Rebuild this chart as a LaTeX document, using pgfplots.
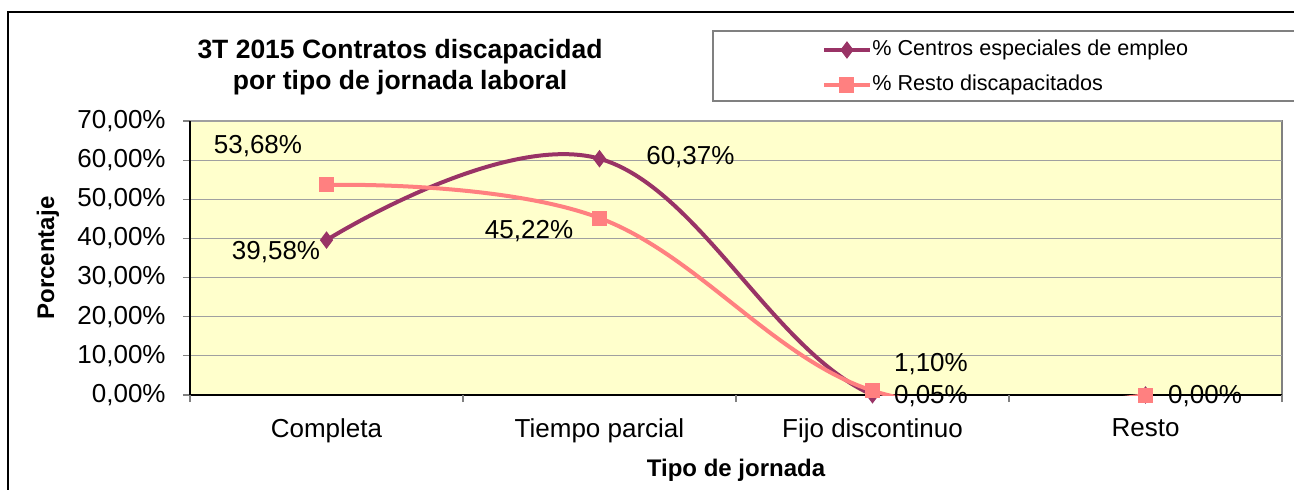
\documentclass[border=0pt]{standalone}
\usepackage{fontspec}
\setmainfont{Liberation Sans}
\usepackage{pgfplots}
\pgfplotsset{compat=1.18}
\definecolor{plum}{HTML}{993366}
\definecolor{salmon}{HTML}{FF8080}
\definecolor{bgyellow}{HTML}{FFFFCC}
\definecolor{gridgray}{HTML}{A0A0A0}
\begin{document}
\begin{tikzpicture}
\useasboundingbox (0,0) rectangle (647pt,244.5pt);
\fill[white] (0,0) rectangle (647pt,244.5pt);
\draw[black, line width=0.6pt] (4pt,-1pt) -- (4pt,238.5pt) -- (648pt,238.5pt);
\draw[gray, line width=0.6pt, fill=white] (356.5pt,194pt) rectangle (650pt,229pt);
\node[font=\fontsize{13.25}{15.5}\selectfont\bfseries, align=center] at (200pt,210.75pt) {3T 2015 Contratos discapacidad\\por tipo de jornada laboral};
\begin{axis}[
 at={(95pt,47pt)}, anchor=south west,
 scale only axis, width=546pt, height=137pt,
 xmin=-0.5, xmax=3.5, ymin=0, ymax=70,
 clip mode=individual,
 axis background/.style={fill=bgyellow, draw=gray, line width=0.6pt},
 axis x line*=bottom, axis y line*=left,
 axis line style={black, line width=0.8pt, -},
 tick align=outside,
 /pgf/number format/assume math mode=true,
 ticklabel style={font=\fontsize{13}{15}\selectfont},
 xtick={0,1,2,3},
 xticklabels={Completa, Tiempo parcial, Fijo discontinuo, Resto},
 x tick style={draw=none},
 extra x ticks={-0.5,0.5,1.5,2.5,3.5},
 extra x tick labels={},
 extra x tick style={x tick style={draw=gray, line width=0.6pt}, major tick length=3.5pt},
 ytick={0,10,...,70},
 yticklabels={{0,00\%},{10,00\%},{20,00\%},{30,00\%},{40,00\%},{50,00\%},{60,00\%},{70,00\%}},
 y tick style={draw=gray, line width=0.6pt},
 major tick length=3.5pt,
 ymajorgrids,
 grid style={gridgray, line width=0.6pt},
 xticklabel style={anchor=north, inner sep=0pt, yshift=-8pt},
 yticklabel style={anchor=east, inner sep=0pt, xshift=-8.5pt},
 xlabel={Tipo de jornada},
 ylabel={Porcentaje},
 label style={font=\fontsize{12}{14}\selectfont\bfseries},
 xlabel style={at={(axis description cs:0.5,-0.2737)}, anchor=center},
 ylabel style={at={(axis description cs:-0.1300,0.5)}, anchor=center},
 legend image code/.code={\draw[mark repeat=2,mark phase=2] plot coordinates {(0pt,0pt) (11.25pt,0pt) (22.5pt,0pt)};},
 legend style={draw=none, fill=none, at={(0.5788,1.1953)}, anchor=west, inner sep=0pt,
   font=\fontsize{10.8}{13}\selectfont,
   nodes={inner sep=0pt, text height=8pt, text depth=2.5pt},
   row sep=7pt, column sep=0.5pt},
 legend cell align=left,
]
\addplot[plum, line width=2pt, smooth, tension=0.65, mark=diamond*, mark size=4pt, mark options={solid, fill=plum, line width=0.5pt}] coordinates {(0,39.58) (1,60.37) (2,0.05) (3,0.00)};
\addlegendentry{\% Centros especiales de empleo}
\addplot[salmon, line width=2pt, smooth, tension=0.65, mark=square*, mark size=3.5pt, mark options={solid, fill=salmon, line width=0.5pt}] coordinates {(0,53.68) (1,45.22) (2,1.10) (3,0.00)};
\addlegendentry{\% Resto discapacitados}
\node[font=\fontsize{13}{15}\selectfont] at (axis cs:-0.251,63.6) {53,68\%};
\node[font=\fontsize{13}{15}\selectfont] at (axis cs:-0.185,36.5) {39,58\%};
\node[font=\fontsize{13}{15}\selectfont] at (axis cs:1.333,60.9) {60,37\%};
\node[font=\fontsize{13}{15}\selectfont] at (axis cs:0.742,41.8) {45,22\%};
\node[font=\fontsize{13}{15}\selectfont] at (axis cs:2.214,7.9) {1,10\%};
\node[font=\fontsize{13}{15}\selectfont] at (axis cs:2.214,-0.26) {0,05\%};
\node[font=\fontsize{13}{15}\selectfont] at (axis cs:3.218,-0.26) {0,00\%};
\end{axis}
\end{tikzpicture}
\end{document}
